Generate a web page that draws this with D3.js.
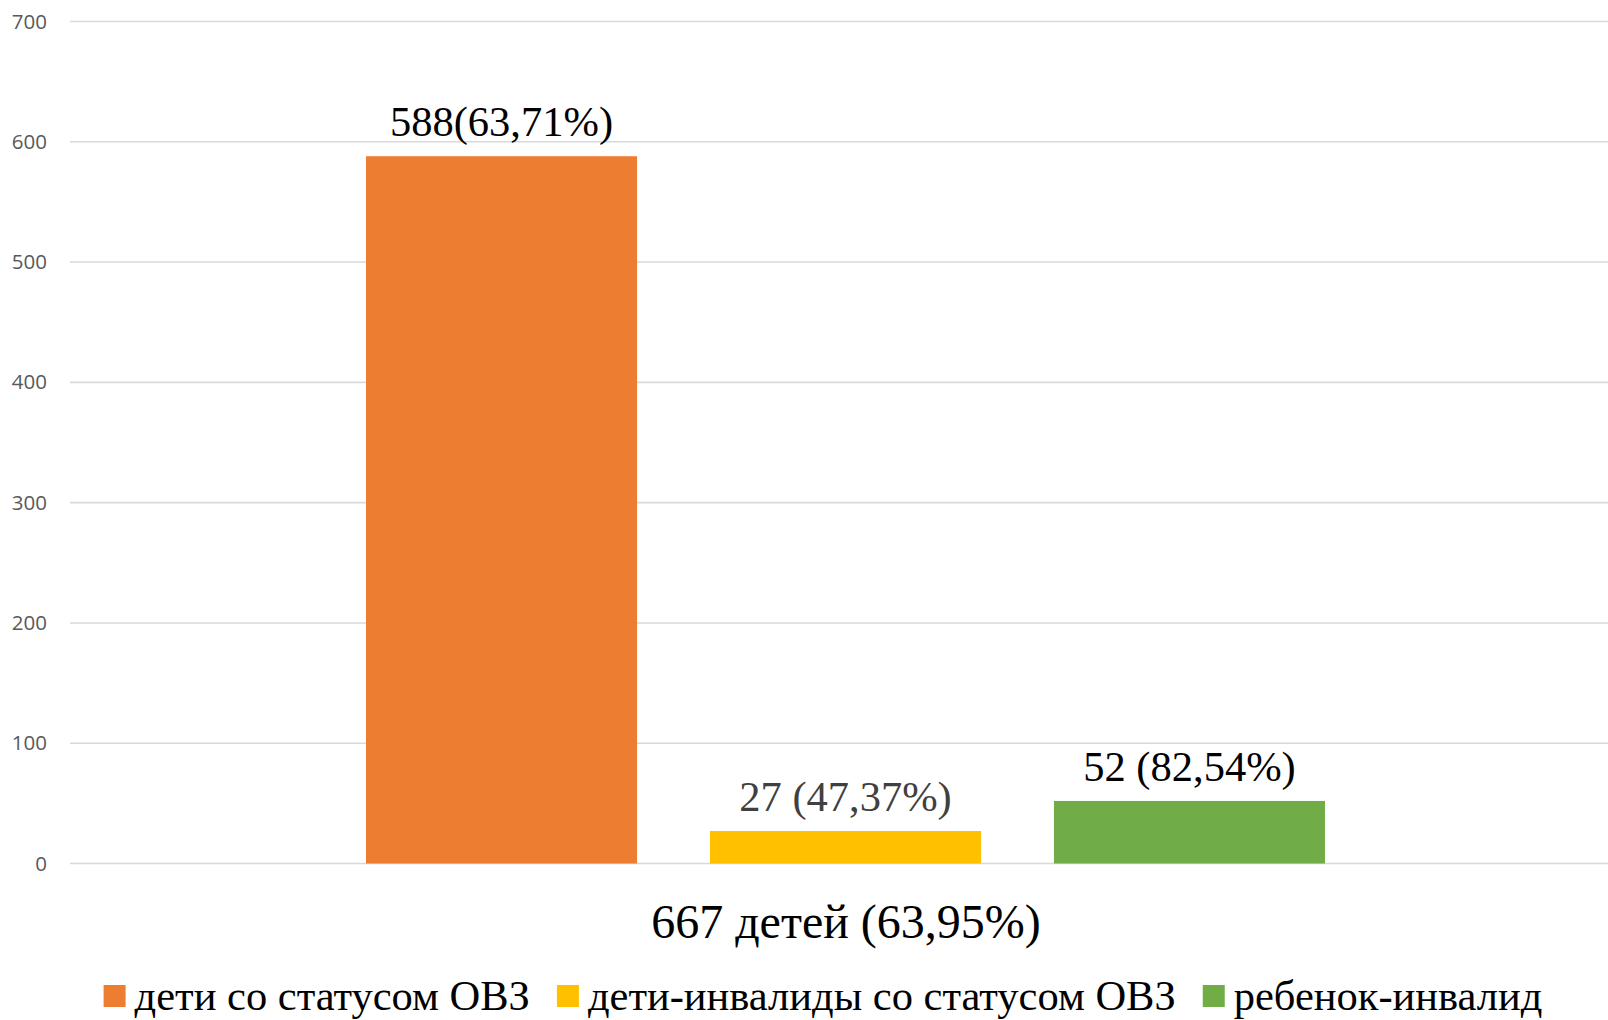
<!DOCTYPE html>
<html>
<head>
<meta charset="utf-8">
<script src="https://cdn.jsdelivr.net/npm/d3@7"></script>
<style>
  html, body { margin: 0; padding: 0; background: #fff; overflow: hidden; }
  svg { display: block; }
</style>
</head>
<body>
<svg id="chart" width="1608" height="1020"></svg>
<script>
const category = "667 детей (63,95%)";
const series = ["дети со статусом ОВЗ", "дети-инвалиды со статусом ОВЗ", "ребенок-инвалид"];
const values = [588, 27, 52];
const labels = ["588(63,71%)", "27 (47,37%)", "52 (82,54%)"];
const colors = ["#ED7D31", "#FFC000", "#70AD47"];
const labelColors = ["#000000", "#404040", "#000000"];
const yTicks = [0, 100, 200, 300, 400, 500, 600, 700];

(function () {
const svg = d3.select("#chart");
const plotLeft = 70, plotRight = 1608, plotTop = 21.5, plotBottom = 863.5;
const serif = "'Liberation Serif', 'Times New Roman', serif";

const y = d3.scaleLinear().domain([0, 700]).range([plotBottom, plotTop]);
const x = d3.scaleBand().domain(series).range([366, 1325]).paddingInner(0.212).paddingOuter(0);

// gridlines
svg.append("g").selectAll("line").data(yTicks).join("line")
  .attr("x1", plotLeft).attr("x2", plotRight)
  .attr("y1", d => y(d)).attr("y2", d => y(d))
  .attr("stroke", "#d9d9d9").attr("stroke-width", 1.6);

// y axis labels
const yAxis = d3.axisLeft(y).tickValues(yTicks).tickSize(0).tickPadding(0);
const ga = svg.append("g").attr("transform", `translate(47,0)`).call(yAxis);
ga.select(".domain").remove();
ga.selectAll("text")
  .attr("font-family", "'Open Sans', 'Noto Sans', sans-serif")
  .attr("font-size", 20.5)
  .attr("fill", "#595959");

// bars
svg.append("g").selectAll("rect").data(series).join("rect")
  .attr("x", d => x(d))
  .attr("width", x.bandwidth())
  .attr("y", (d, i) => y(values[i]))
  .attr("height", (d, i) => y(0) - y(values[i]))
  .attr("fill", (d, i) => colors[i]);

// data labels
svg.append("g").selectAll("text").data(series).join("text")
  .attr("x", d => x(d) + x.bandwidth() / 2)
  .attr("y", (d, i) => y(values[i]) - 20)
  .attr("text-anchor", "middle")
  .attr("font-family", serif)
  .attr("font-size", 42.5)
  .attr("fill", (d, i) => labelColors[i])
  .text((d, i) => labels[i]);

// category label
svg.append("text")
  .attr("x", 846).attr("y", 938)
  .attr("text-anchor", "middle")
  .attr("font-family", serif)
  .attr("font-size", 48)
  .attr("fill", "#000")
  .text(category);

// legend
const legendFont = 42.5;
const lg = svg.append("g");
const tmp = lg.append("text").attr("font-family", serif).attr("font-size", legendFont);
const widths = series.map(s => { tmp.text(s); return tmp.node().getComputedTextLength(); });
tmp.remove();
const sw = 22, gapSw = 9, gapItem = 27;
const total = widths.reduce((a, w) => a + sw + gapSw + w, 0) + gapItem * (series.length - 1);
let cx = 823 - total / 2;
series.forEach((s, i) => {
  lg.append("rect").attr("x", cx).attr("y", 985).attr("width", sw).attr("height", sw).attr("fill", colors[i]);
  lg.append("text").attr("x", cx + sw + gapSw).attr("y", 1010)
    .attr("font-family", serif)
    .attr("font-size", legendFont).attr("fill", "#000").text(s);
  cx += sw + gapSw + widths[i] + gapItem;
});
})();
</script>
</body>
</html>
